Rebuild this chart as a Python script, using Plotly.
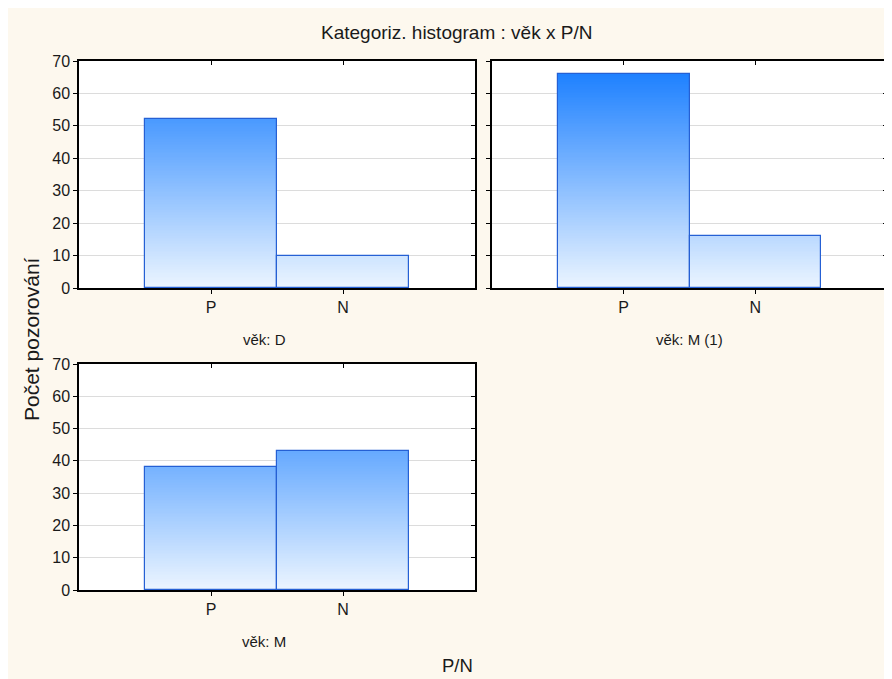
import plotly.graph_objects as go

# ---- data ----
categories = ["P", "N"]
panel_labels = ["věk: D", "věk: M (1)", "věk: M"]
counts_D = [52, 10]
counts_M1 = [66, 16]
counts_M = [38, 43]
y_tick_values = [0, 10, 20, 30, 40, 50, 60, 70]
main_title = "Kategoriz. histogram : věk x P/N"
y_title = "Počet pozorování"
x_title = "P/N"

W, H = 884, 671
OFF = 8  # page body margin in the screenshot
FONT = "Liberation Sans, Arial, sans-serif"
CREAM = "#FDF8EE"
Y_MAX = 70
STEP = 0.5


def grad_color(level):
    t = max(0.0, min(1.0, level / Y_MAX))
    c0 = (236, 245, 255)
    c1 = (18, 122, 255)
    r, g, b = (round(c0[i] + (c1[i] - c0[i]) * t) for i in range(3))
    return f"rgb({r},{g},{b})"


def px_x(p):
    return (p - OFF) / W


def px_y(p):
    return 1 - (p - OFF) / H


# panel geometry in screenshot pixels (left, right, top, bottom)
panels = [
    (79, 475, 61, 288),
    (492, 887, 61, 288),
    (79, 475, 364, 590),
]
series = [counts_D, counts_M1, counts_M]
show_y_labels = [True, False, True]

fig = go.Figure()
layout = {}

for i, (vals, (l, r, t, b)) in enumerate(zip(series, panels)):
    n = i + 1
    xa = "x" if n == 1 else f"x{n}"
    ya = "y" if n == 1 else f"y{n}"
    xm = f"x{n + 3}"
    ym = f"y{n + 3}"

    # gradient fill: overlaid bars, tallest first
    gx, gy, gc = [], [], []
    for cat, v in zip(categories, vals):
        lev = float(v)
        while lev > 0:
            gx.append(cat)
            gy.append(lev)
            gc.append(grad_color(lev - STEP / 2))
            lev -= STEP
    fig.add_trace(go.Bar(x=gx, y=gy, width=1, marker=dict(color=gc, line=dict(width=0)),
                         xaxis=xa, yaxis=ya, showlegend=False, hoverinfo="skip"))
    # outline bars
    fig.add_trace(go.Bar(x=categories, y=vals, width=1,
                         marker=dict(color="rgba(0,0,0,0)", line=dict(color="#2560D4", width=1.2)),
                         xaxis=xa, yaxis=ya, showlegend=False))
    # dummy trace for mirrored inside-tick axes
    fig.add_trace(go.Scatter(x=[None], y=[None], xaxis=xm, yaxis=ym, showlegend=False,
                             hoverinfo="skip"))

    key_x = "xaxis" if n == 1 else f"xaxis{n}"
    key_y = "yaxis" if n == 1 else f"yaxis{n}"
    layout[key_x] = dict(
        domain=[px_x(l), px_x(r)], anchor=ya, type="category",
        categoryorder="array", categoryarray=categories,
        range=[-1, 2], ticks="outside", ticklen=4, tickcolor="black",
        showline=True, linecolor="black", linewidth=1.5, mirror=True,
        showgrid=False, zeroline=False, fixedrange=True,
        tickfont=dict(size=16, color="#1a1a1a", family=FONT),
    )
    layout[key_y] = dict(
        domain=[px_y(b), px_y(t)], anchor=xa, range=[0, Y_MAX],
        tickvals=y_tick_values, ticks="outside", ticklen=4, tickcolor="black",
        showticklabels=show_y_labels[i],
        showline=True, linecolor="black", linewidth=1.5, mirror=True,
        showgrid=True, gridcolor="#DCDCDC", gridwidth=1, zeroline=False,
        fixedrange=True, tickfont=dict(size=16, color="#1a1a1a", family=FONT),
    )
    layout[f"xaxis{n + 3}"] = dict(
        overlaying=xa, anchor=ym, side="top", range=[-1, 2], tickvals=[0, 1],
        ticks="inside", ticklen=4, tickcolor="black", showticklabels=False,
        showline=False, showgrid=False, zeroline=False, fixedrange=True,
    )
    layout[f"yaxis{n + 3}"] = dict(
        overlaying=ya, anchor=xm, side="right", range=[0, Y_MAX],
        tickvals=y_tick_values[1:-1], ticks="inside", ticklen=4, tickcolor="black",
        showticklabels=False, showline=False, showgrid=False, zeroline=False,
        fixedrange=True,
    )

annotations = [
    dict(text=main_title, x=px_x(456), y=px_y(33), font=dict(size=19)),
    dict(text=panel_labels[0], x=px_x(264), y=px_y(339), font=dict(size=15)),
    dict(text=panel_labels[1], x=px_x(689), y=px_y(339), font=dict(size=15)),
    dict(text=panel_labels[2], x=px_x(264), y=px_y(641), font=dict(size=15)),
    dict(text=x_title, x=px_x(457), y=px_y(665), font=dict(size=18.5)),
    dict(text=y_title, x=px_x(31), y=px_y(339), font=dict(size=21), textangle=-90),
]
for a in annotations:
    a.update(xref="paper", yref="paper", showarrow=False, xanchor="center", yanchor="middle")
    a["font"].update(family=FONT, color="#1a1a1a")

fig.update_layout(
    width=W, height=H,
    margin=dict(l=0, r=0, t=0, b=0, pad=0, autoexpand=False),
    paper_bgcolor=CREAM, plot_bgcolor="white",
    barmode="overlay", bargap=0,
    font=dict(family=FONT, size=15, color="#1a1a1a"),
    annotations=annotations, showlegend=False,
    **layout,
)

fig.write_html("out.html")
